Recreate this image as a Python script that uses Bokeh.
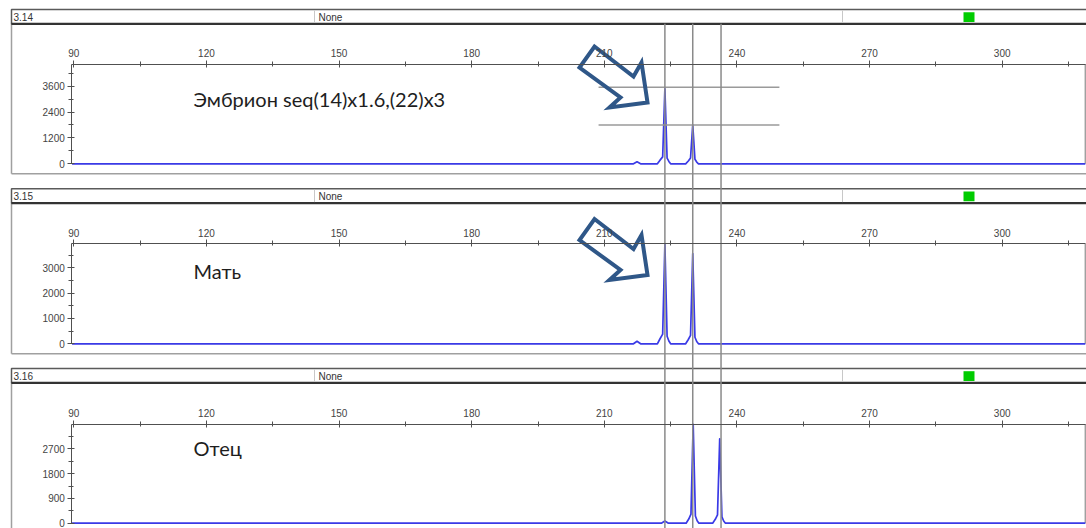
from bokeh.plotting import figure
from bokeh.models import Range1d, LinearAxis, SingleIntervalTicker
from bokeh.core.properties import value
from bokeh.embed import file_html
from bokeh.resources import INLINE

# ------------------------------------------------------------------ data
panel_ids = ["3.14", "3.15", "3.16"]
panel_status = ["None", "None", "None"]
sample_names = ["Эмбрион seq(14)x1.6,(22)x3", "Мать", "Отец"]

size_tick_interval = 30          # bp, labels 90 ... 300
y_tick_steps = [1200, 1000, 900]  # RFU per major tick, per panel

embryo_x = [89.6, 216.6, 217.4, 218.2, 222.0, 222.6, 223.2, 223.7, 224.2, 224.6, 225.0,
            228.4, 229.0, 229.5, 230.0, 230.5, 230.9, 231.3, 318.8]
embryo_y = [0, 0, 90, 0, 0, 170, 320, 3480, 260, 110, 0,
            0, 130, 270, 1810, 210, 80, 0, 0]

mother_x = [89.6, 216.6, 217.4, 218.2, 222.0, 222.6, 223.2, 223.7, 224.2, 224.6, 225.0,
            228.4, 229.0, 229.5, 230.0, 230.5, 230.9, 231.3, 318.8]
mother_y = [0, 0, 100, 0, 0, 200, 380, 3930, 300, 110, 0,
            0, 170, 330, 3560, 260, 90, 0, 0]

father_x = [89.6, 222.9, 223.7, 224.5, 228.5, 229.1, 229.6, 230.1, 230.6, 231.0, 231.4,
            234.5, 235.1, 235.6, 236.1, 236.6, 237.0, 237.4, 318.8]
father_y = [0, 0, 80, 0, 0, 150, 330, 3590, 260, 90, 0,
            0, 140, 300, 3060, 230, 80, 0, 0]

bin_positions = [223.7, 230.0, 236.4]          # bp, allele bin lines
embryo_marker_heights = [3550, 1800]           # RFU, peak height markers
embryo_marker_span = [208.7, 249.6]            # bp

traces = [(embryo_x, embryo_y), (mother_x, mother_y), (father_x, father_y)]

# ------------------------------------------------------------------ layout (page pixels)
W, H = 1086, 528
PX0, PY0 = 0, 0
PX1, PY1 = PX0 + W, PY0 + H
BP90_PX, PX_PER_BP = 73.3, 4.421
plot_left_bp, plot_right_bp = 89.55, 318.8

header_top = [9.0, 188.3, 368.0]
header_h = 14.3
axis_top_px = [63.5, 243.3, 423.6]
zero_px = [163.3, 343.3, 522.7]
tick_px = [25.87, 25.33, 24.8]
box_bottom = [173.3, 353.3, 560.0]
name_center = [98.5, 270.0, 447.0]
arrow_dy = [0.0, 172.5]

arrow_shape_x = [594, 633, 641, 647, 609, 620, 579]
arrow_shape_y = [46, 76, 62, 102, 107, 97, 67]

def bp_at(px):
    return 90 + (px - BP90_PX) / PX_PER_BP

p = figure(width=W, height=H,
           x_range=Range1d(bp_at(PX0), bp_at(PX1)),
           y_range=Range1d(PY1, PY0),
           x_axis_type=None, y_axis_type=None,
           output_backend="svg", toolbar_location=None,
           min_border=0, outline_line_color=None,
           background_fill_color="white", border_fill_color="white")

p.extra_x_ranges = {"px": Range1d(PX0, PX1)}
ymax = []
for k in range(3):
    s = y_tick_steps[k] / tick_px[k]
    p.extra_y_ranges[f"p{k}"] = Range1d(-(PY1 - zero_px[k]) * s, (zero_px[k] - PY0) * s)
    ymax.append(round((zero_px[k] - axis_top_px[k]) * s))

AX_COL = "#505050"
TXT_FONT = value("Liberation Sans")

for k in range(3):
    ht = header_top[k]
    hb = ht + header_h
    yr = f"p{k}"
    # panel box
    p.segment(x0=[11, 11], y0=[hb, box_bottom[k]], x1=[11, PX1 + 10], y1=[box_bottom[k], box_bottom[k]],
              x_range_name="px", line_color="#a0a0a0", line_width=1.5)
    # header bar
    p.quad(left=[11], right=[PX1 + 10], top=[ht], bottom=[hb], x_range_name="px",
           fill_color="white", line_color="#5a5a5a", line_width=1.5)
    p.segment(x0=[11], y0=[hb], x1=[PX1 + 10], y1=[hb], x_range_name="px",
              line_color="#333333", line_width=2.2)
    p.segment(x0=[314, 842], y0=[ht + 1, ht + 1], x1=[314, 842], y1=[hb - 1, hb - 1],
              x_range_name="px", line_color="#c8c8c8", line_width=1)
    p.text(x=[13, 318], y=[ht + 7.5, ht + 7.5], text=[panel_ids[k], panel_status[k]],
           x_range_name="px", text_baseline="middle", text_font=TXT_FONT,
           text_font_size=value("10px"), text_color="#333333")
    p.quad(left=[963], right=[974], top=[ht + 2.7], bottom=[ht + 12.5], x_range_name="px",
           fill_color="#00cc00", line_color=None)

    # right frame border
    p.segment(x0=[plot_right_bp], y0=[0], x1=[plot_right_bp], y1=[ymax[k]], y_range_name=yr,
              line_color="#a0a0a0", line_width=1.5)

    # trace
    tx, ty = traces[k]
    p.line(tx, ty, y_range_name=yr, line_color="#3a3ae6", line_width=1.7, line_join="round")

    # axes
    xa = LinearAxis(y_range_name=yr, fixed_location=ymax[k],
                    ticker=SingleIntervalTicker(interval=size_tick_interval, num_minor_ticks=2),
                    bounds=(plot_left_bp, plot_right_bp))
    ya = LinearAxis(y_range_name=yr, fixed_location=plot_left_bp,
                    ticker=SingleIntervalTicker(interval=y_tick_steps[k], num_minor_ticks=2),
                    bounds=(0, ymax[k]))
    for ax in (xa, ya):
        ax.axis_line_color = AX_COL
        ax.axis_line_width = 1
        ax.major_tick_line_color = AX_COL
        ax.minor_tick_line_color = AX_COL
        ax.major_tick_in = 3
        ax.major_tick_out = 4
        ax.minor_tick_in = 2
        ax.minor_tick_out = 3
        ax.major_label_text_font = "Liberation Sans"
        ax.major_label_text_font_size = "10px"
        ax.major_label_text_color = "#444444"
        ax.major_label_standoff = 3
    p.add_layout(xa, "above")
    p.add_layout(ya, "left")

    # sample name
    p.text(x=[193], y=[name_center[k]], text=[sample_names[k]], x_range_name="px",
           text_baseline="middle", text_font=value("Lato"),
           text_font_size=value("20px"), text_color="#1e1e1e")

# peak height markers (embryo)
p.segment(x0=[embryo_marker_span[0]] * 2, x1=[embryo_marker_span[1]] * 2,
          y0=embryo_marker_heights, y1=embryo_marker_heights, y_range_name="p0",
          line_color="#9a9a9a", line_width=1.5)

# arrows
for dy in arrow_dy:
    p.patch([x for x in arrow_shape_x], [y + dy for y in arrow_shape_y], x_range_name="px",
            fill_alpha=0, line_color="#2f5788", line_width=4, line_join="miter")

# allele bin lines across all panels
p.segment(x0=bin_positions, x1=bin_positions, y0=[header_top[0] + header_h] * 3,
          y1=[PY1 + 5] * 3, line_color="#8a8a8a", line_width=1.5)

open("out.html", "w").write(file_html(p, INLINE))
